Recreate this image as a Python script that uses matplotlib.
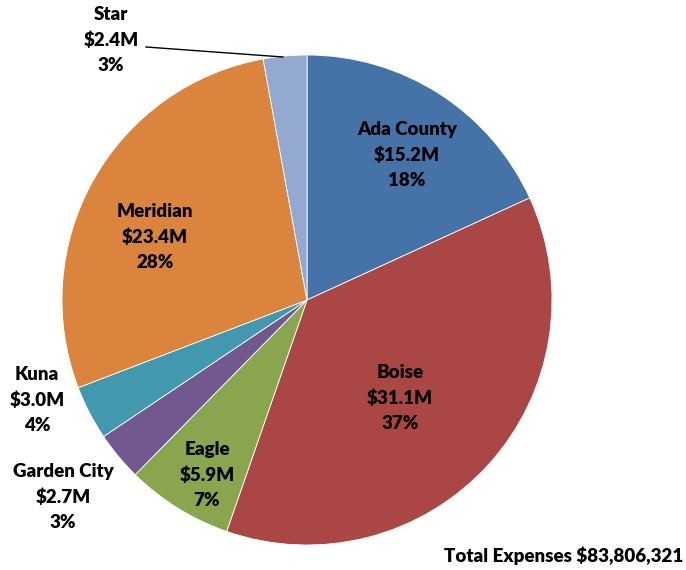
import matplotlib
matplotlib.use("Agg")
import matplotlib.pyplot as plt

# ---------- data ----------
cities = ["Ada County", "Boise", "Eagle", "Garden City", "Kuna", "Meridian", "Star"]
expenses_m = [15.2, 31.1, 5.9, 2.7, 3.0, 23.4, 2.4]
percents = [18, 37, 7, 3, 4, 28, 3]
colors = ["#4572A7", "#AA4643", "#89A54E", "#71588F", "#4198AF", "#DB843D", "#93A9CF"]
total_label = "Total Expenses $83,806,321"

# label anchor points (pixel coords, y from top), picked to match the original layout
label_pos = [(407, 155), (400, 398), (207, 475), (63, 497), (37, 400), (155, 237), (111, 40)]

W, H = 686, 570
fig = plt.figure(figsize=(W / 100, H / 100), dpi=100)
ax = fig.add_axes([0, 0, 1, 1])

cx, cy, r = 307, H - 300, 245
ax.pie(expenses_m, colors=colors, startangle=90, counterclock=False,
       center=(cx, cy), radius=r, frame=True,
       wedgeprops=dict(edgecolor="white", linewidth=0.6))
ax.set_xlim(0, W)
ax.set_ylim(0, H)
ax.set_aspect("equal")
ax.axis("off")

font = dict(family=["Lato", "DejaVu Sans"], fontweight="heavy", fontsize=13.5)
for name, val, pct, (x, y) in zip(cities, expenses_m, percents, label_pos):
    ax.text(x, H - y, f"{name}\n${val:.1f}M\n{pct}%", ha="center", va="center",
            linespacing=1.55, color="black", **font)

# leader line for Star
ax.plot([146, 283], [H - 47, H - 57], color="black", linewidth=1)

ax.text(683, H - 556, total_label, ha="right", va="center", **font)

fig.savefig("out.png", dpi=100)
